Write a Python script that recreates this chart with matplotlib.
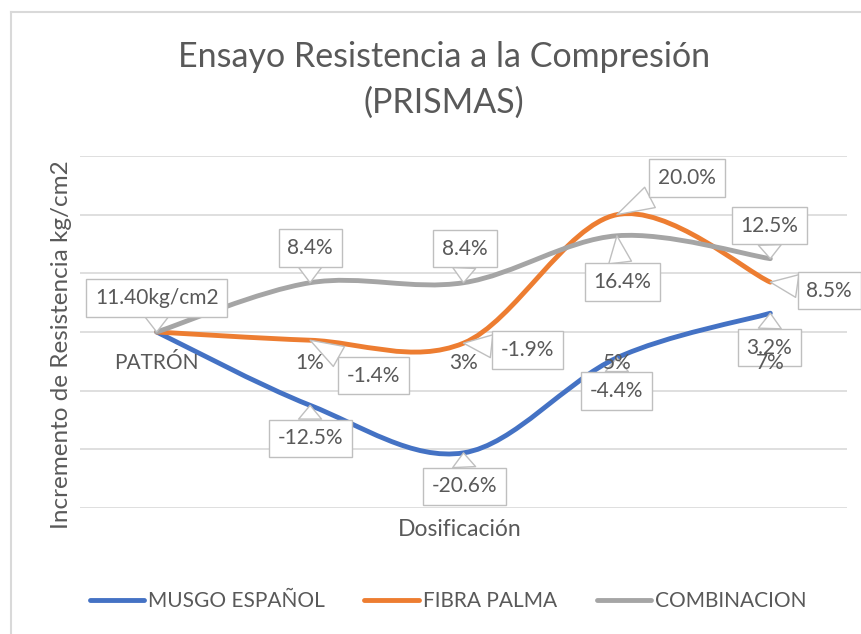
import matplotlib
matplotlib.use('Agg')
import matplotlib.pyplot as plt
from matplotlib.path import Path
from matplotlib.patches import PathPatch
from matplotlib.lines import Line2D

plt.rcParams['font.family'] = ['Lato', 'DejaVu Sans']

# datos (incremento % respecto al patron)
categorias = ['PATRÓN', '1%', '3%', '5%', '7%']
musgo = [0, -12.5, -20.6, -4.4, 3.2]
fibra = [0, -1.4, -1.9, 20.0, 8.5]
combinacion = [0, 8.4, 8.4, 16.4, 12.5]
patron_kg = 11.40

series_names = ['MUSGO ESPAÑOL', 'FIBRA PALMA', 'COMBINACION']
colors = ['#4472C4', '#ED7D31', '#A5A5A5']

# donde va cada etiqueta (px respecto al punto), None = sin etiqueta
offsets = [
    [None, (0, -33), (1.5, -33.5), (0, -33), (-1, -34.5)],
    [None, (63, -35.5), (64, -7), (70, 36.5), (59, -8.5)],
    [(0, 34), (0, 34.5), (1.5, 34), (5.5, -46), (-1, 33)],
]

txt_col = '#595959'
W, H = 862, 634

def smooth_path(xs, ys):
    # bezier tipo excel (catmull-rom)
    n = len(xs)
    verts = [(xs[0], ys[0])]
    codes = [Path.MOVETO]
    for i in range(n - 1):
        i0 = max(i - 1, 0)
        i3 = min(i + 2, n - 1)
        c1 = (xs[i] + (xs[i + 1] - xs[i0]) / 6, ys[i] + (ys[i + 1] - ys[i0]) / 6)
        c2 = (xs[i + 1] - (xs[i3] - xs[i]) / 6, ys[i + 1] - (ys[i3] - ys[i]) / 6)
        verts += [c1, c2, (xs[i + 1], ys[i + 1])]
        codes += [Path.CURVE4] * 3
    return Path(verts, codes)

fig = plt.figure(figsize=(W / 100, H / 100), dpi=100)
ax = fig.add_axes([80 / W, (H - 508) / H, 767 / W, 352 / H])

x = list(range(len(categorias)))
data = [musgo, fibra, combinacion]
for vals, c in zip(data, colors):
    pp = PathPatch(smooth_path(x, vals), fc='none', ec=c, lw=3.5,
                   capstyle='round', joinstyle='round', zorder=3)
    ax.add_patch(pp)

for k, (vals, offs) in enumerate(zip(data, offsets)):
    for i, v in enumerate(vals):
        if offs[i] is None:
            continue
        if i == 0:
            lab = '%.2fkg/cm2' % patron_kg
        else:
            lab = '%.1f%%' % v
        dx, dy = offs[i]
        ax.annotate(lab, xy=(i, v), xytext=(dx * 0.72, dy * 0.72), textcoords='offset points',
                    ha='center', va='center', fontsize=15, color=txt_col, zorder=5,
                    bbox=dict(boxstyle='square,pad=0.42', fc='white', ec='#BFBFBF', lw=1),
                    arrowprops=dict(arrowstyle='wedge,tail_width=1.1', fc='white', ec='#BFBFBF',
                                    lw=1, shrinkA=0, shrinkB=0))

ax.set_xlim(-0.5, 4.5)
ax.set_ylim(-30, 30)
ax.spines['bottom'].set_position(('data', 0))
ax.set_yticks(range(-30, 31, 10))
ax.yaxis.grid(True, color='#D9D9D9', lw=1.2)
ax.set_axisbelow(True)
ax.set_xticks(x)
ax.set_xticklabels(categorias)
for s in ax.spines.values():
    s.set_visible(False)
ax.tick_params(axis='x', length=0, pad=15, labelsize=15, labelcolor=txt_col)
ax.tick_params(axis='y', left=False, labelleft=False)
ax.xaxis.set_zorder(6)

fig.text(444 / W, 1 - 80 / H, 'Ensayo Resistencia a la Compresión\n(PRISMAS)',
         ha='center', va='center', fontsize=24.5, color=txt_col, linespacing=1.55)
fig.text(62 / W, 1 - 345 / H, 'Incremento de Resistencia kg/cm2', rotation=90,
         ha='center', va='center', fontsize=17.5, color=txt_col)
fig.text(460 / W, 1 - 530 / H, 'Dosificación', ha='center', va='center',
         fontsize=16.5, color=txt_col)

# borde del grafico
fig.add_artist(Line2D([11 / W, 1], [1 - 12 / H, 1 - 12 / H], transform=fig.transFigure,
                      color='#D9D9D9', lw=1.5))
fig.add_artist(Line2D([11 / W, 11 / W], [0, 1 - 12 / H], transform=fig.transFigure,
                      color='#D9D9D9', lw=1.5))

handles = [Line2D([], [], color=c, lw=3.5, solid_capstyle='round') for c in colors]
leg = fig.legend(handles, series_names, loc='center', bbox_to_anchor=(448 / W, 1 - 601 / H),
                 ncol=3, frameon=False, fontsize=15, handlelength=2.6, handletextpad=0.2,
                 columnspacing=1.9)
for t in leg.get_texts():
    t.set_color(txt_col)

fig.savefig('out.png', dpi=100)
